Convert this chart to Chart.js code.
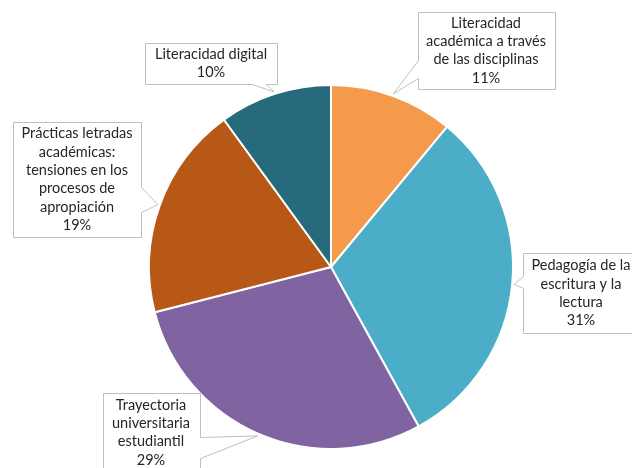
<!DOCTYPE html>
<html>
<head>
<meta charset="utf-8">
<script src="https://cdn.jsdelivr.net/npm/chart.js@4/dist/chart.umd.min.js"></script>
<style>
  html, body { margin: 0; padding: 0; background: #fff; }
  canvas { display: block; }
</style>
</head>
<body>
<canvas id="pieChart" width="632" height="468"></canvas>
<script>
  'use strict';
  // data
  var categories = [
    ['Literacidad', 'académica a través', 'de las disciplinas'],
    ['Pedagogía de la', 'escritura y la', 'lectura'],
    ['Trayectoria', 'universitaria', 'estudiantil'],
    ['Prácticas letradas', 'académicas:', 'tensiones en los', 'procesos de', 'apropiación'],
    ['Literacidad digital']
  ];
  var values = [11, 31, 29, 19, 10];
  var colors = ['#F49A4A', '#4BADC7', '#8064A2', '#B85816', '#276A7C'];

  // callout boxes: rect, text centre, side of the pointer and its base range
  var boxes = [
    { x: 418, y: 12, w: 137, h: 77, cx: 486, side: 'left', b1: 60, b2: 78 },
    { x: 523, y: 253, w: 130, h: 80, cx: 581, side: 'left', b1: 276, b2: 288 },
    { x: 103, y: 393, w: 97, h: 90, cx: 151, side: 'right', b1: 437, b2: 458 },
    { x: 13, y: 122, w: 128, h: 115, cx: 77, side: 'right', b1: 187, b2: 212 },
    { x: 145, y: 43, w: 132, h: 41, cx: 211, side: 'bottom', b1: 252, b2: 266 }
  ];

  var calloutPlugin = {
    id: 'callouts',
    afterDatasetsDraw: function(chart) {
      var ctx = chart.ctx;
      var arcs = chart.getDatasetMeta(0).data;
      ctx.save();
      ctx.font = '14.5px Lato';
      ctx.textAlign = 'center';
      ctx.textBaseline = 'middle';
      arcs.forEach(function(arc, i) {
        var b = boxes[i];
        var mid = (arc.startAngle + arc.endAngle) / 2;
        var tx = arc.x + Math.cos(mid) * (arc.outerRadius + 2);
        var ty = arc.y + Math.sin(mid) * (arc.outerRadius + 2);
        var x0 = b.x + 0.5, y0 = b.y + 0.5, x1 = b.x + b.w + 0.5, y1 = b.y + b.h + 0.5;
        ctx.beginPath();
        ctx.moveTo(x0, y0);
        ctx.lineTo(x1, y0);
        if (b.side === 'right') {
          ctx.lineTo(x1, b.b1 + 0.5);
          ctx.lineTo(tx, ty);
          ctx.lineTo(x1, b.b2 + 0.5);
        }
        ctx.lineTo(x1, y1);
        if (b.side === 'bottom') {
          ctx.lineTo(b.b2 + 0.5, y1);
          ctx.lineTo(tx, ty);
          ctx.lineTo(b.b1 + 0.5, y1);
        }
        ctx.lineTo(x0, y1);
        if (b.side === 'left') {
          ctx.lineTo(x0, b.b2 + 0.5);
          ctx.lineTo(tx, ty);
          ctx.lineTo(x0, b.b1 + 0.5);
        }
        ctx.closePath();
        ctx.fillStyle = '#ffffff';
        ctx.fill();
        ctx.strokeStyle = '#BFBFBF';
        ctx.lineWidth = 1;
        ctx.stroke();

        var lines = categories[i].concat([values[i] + '%']);
        var lh = 18.3;
        var top = b.y + b.h / 2 - (lines.length - 1) * lh / 2;
        if (i === 2) top = 405;
        ctx.fillStyle = '#262626';
        lines.forEach(function(t, k) {
          ctx.fillText(t, b.cx, top + k * lh);
        });
      });
      ctx.restore();
    }
  };

  var pieCanvas = document.getElementById('pieChart').getContext('2d');
  var pieChart = new Chart(pieCanvas, {
    type: 'pie',
    data: {
      labels: categories,
      datasets: [{
        data: values,
        backgroundColor: colors,
        borderColor: '#ffffff',
        borderWidth: 2
      }]
    },
    options: {
      responsive: false,
      animation: false,
      devicePixelRatio: 1,
      layout: { padding: { left: 148, right: 118, top: 84, bottom: 18 } },
      plugins: {
        legend: { display: false },
        tooltip: { enabled: false }
      }
    },
    plugins: [calloutPlugin]
  });
</script>
</body>
</html>
